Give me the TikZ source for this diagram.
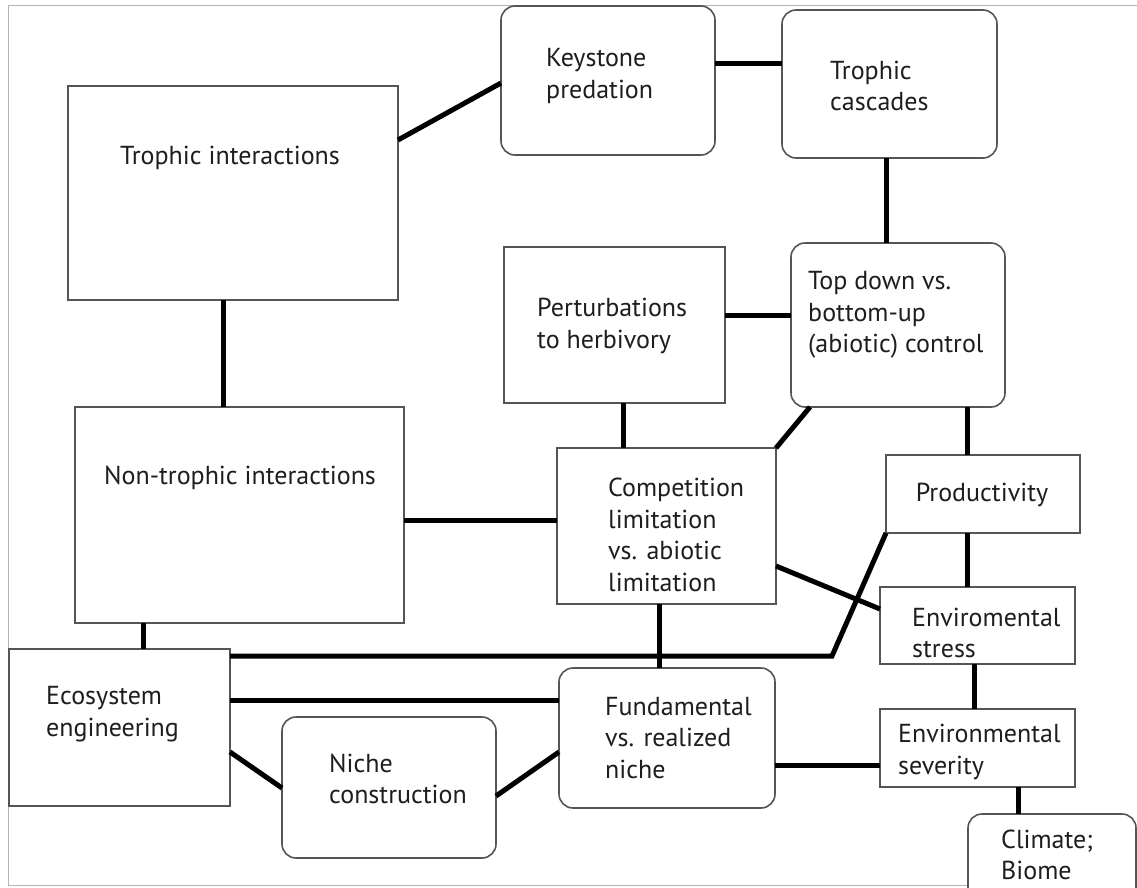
\documentclass[tikz,border=0pt]{standalone}
\usepackage{fontspec}
\setmainfont{PT Sans}
\usetikzlibrary{calc}
\definecolor{boxline}{HTML}{555555}
\definecolor{framegray}{HTML}{B4B4B4}
\definecolor{txt}{HTML}{1E1E1E}
\tikzset{
  box/.style={draw=boxline, line width=1.6pt, fill=white, inner sep=0pt, outer sep=0pt, shape=rectangle},
  rbox/.style={box, rounded corners=14pt},
  lbl/.style={inner sep=0pt, align=left, anchor=west, text=txt, font=\fontsize{26}{31.5}\selectfont},
  clbl/.style={inner sep=0pt, align=center, anchor=center, text=txt, font=\fontsize{26}{31.5}\selectfont},
  link/.style={line width=5pt, black},
}
\begin{document}
\begin{tikzpicture}[x=1pt,y=-1pt]
\useasboundingbox (0,0) rectangle (1137,887);
\fill[white] (0,0) rectangle (1137,887);
\draw[framegray, line width=1pt] (1137,5) -- (8,5) -- (8,885) -- (1137,885);

% boxes
\node[box,  minimum width=330, minimum height=214] (ti) at (233,193) {};
\node[rbox, minimum width=214, minimum height=149] (kp) at (608,80.5) {};
\node[rbox, minimum width=215, minimum height=148] (tc) at (889.5,84) {};
\node[box,  minimum width=221, minimum height=156] (pb) at (614.5,325) {};
\node[rbox, minimum width=214, minimum height=164] (td) at (898,325) {};
\node[box,  minimum width=329, minimum height=216] (nt) at (239.5,515) {};
\node[box,  minimum width=219, minimum height=156] (cl) at (666.5,526) {};
\node[box,  minimum width=194, minimum height=78]  (pr) at (983,494) {};
\node[box,  minimum width=195, minimum height=77]  (es) at (977.5,625.5) {};
\node[box,  minimum width=195, minimum height=78]  (sv) at (977.5,748) {};
\node[rbox, minimum width=168, minimum height=96]  (cb) at (1052,862) {};
\node[rbox, minimum width=216, minimum height=140] (fn) at (667,738) {};
\node[box,  minimum width=221, minimum height=157] (ec) at (119.5,727.5) {};
\node[rbox, minimum width=214, minimum height=141] (nc) at (389,787.5) {};

% labels
\node[clbl] (tti) at (230,158) {Trophic interactions};
\node[lbl] (tkp) at (546,76) {Keystone\\predation};
\node[lbl] (ttc) at (830,86) {Trophic\\cascades};
\node[lbl] (tpb) at (537,326) {Perturbations\\to herbivory};
\node[lbl] (ttd) at (808,315) {Top down vs.\\bottom-up\\(abiotic) control};
\node[clbl] (tnt) at (240,478) {Non-trophic interactions};
\node[lbl] (tcl) at (608,535) {Competition\\limitation\\vs. abiotic\\limitation};
\node[clbl] (tpr) at (982,495) {Productivity};
\node[lbl] (tes) at (912,633) {Enviromental\\stress};
\node[lbl] (tsv) at (898,752) {Environmental\\severity};
\node[lbl] (tcb) at (1001,855) {Climate;\\Biome};
\node[lbl] (tfn) at (605,738) {Fundamental\\vs. realized\\niche};
\node[lbl] (tec) at (46,714) {Ecosystem\\engineering};
\node[lbl] (tnc) at (329,779) {Niche\\construction};

% connectors
\draw[link] ($(ti.north east)+(0,54)$) -- ($(kp.north west)+(0,77)$);
\draw[link] ($(kp.north east)+(0,57)$) coordinate (a1) -- (a1 -| tc.west);
\draw[link] ($(tc.south west)+(104,0)$) coordinate (a2) -- (a2 |- td.north);
\draw[link] ($(ti.south west)+(155,0)$) coordinate (a3) -- (a3 |- nt.north);
\draw[link] ($(pb.north east)+(0,68)$) coordinate (a4) -- (a4 -| td.west);
\draw[link] ($(pb.south west)+(119,0)$) coordinate (a5) -- (a5 |- cl.north);
\draw[link] ($(td.south west)+(19,0)$) -- (cl.north east);
\draw[link] ($(td.south west)+(176,0)$) coordinate (a6) -- (a6 |- pr.north);
\draw[link] ($(nt.north east)+(0,113)$) coordinate (a7) -- (a7 -| cl.west);
\draw[link] ($(nt.south west)+(68,0)$) coordinate (a8) -- (a8 |- ec.north);
\coordinate (bend) at (832,656);
\draw[link] ($(ec.north east)+(0,7)$) coordinate (a9) -- (a9 -| bend) -- (pr.south west);
\draw[link] ($(cl.south west)+(102,0)$) coordinate (a10) -- (a10 |- fn.north);
\draw[link] ($(cl.north east)+(0,118)$) -- ($(es.north west)+(0,22)$);
\draw[link] ($(pr.south west)+(81,0)$) coordinate (a11) -- (a11 |- es.north);
\draw[link] ($(es.south west)+(94,0)$) coordinate (a12) -- (a12 |- sv.north);
\draw[link] ($(sv.south west)+(138,0)$) coordinate (a13) -- (a13 |- cb.north);
\draw[link] ($(fn.north east)+(0,97)$) coordinate (a14) -- (a14 -| sv.west);
\draw[link] ($(ec.north east)+(0,51)$) coordinate (a15) -- (a15 -| fn.west);
\draw[link] ($(ec.north east)+(0,103)$) -- ($(nc.north west)+(0,71)$);
\draw[link] ($(nc.north east)+(0,79)$) -- ($(fn.north west)+(0,84)$);
\end{tikzpicture}
\end{document}
